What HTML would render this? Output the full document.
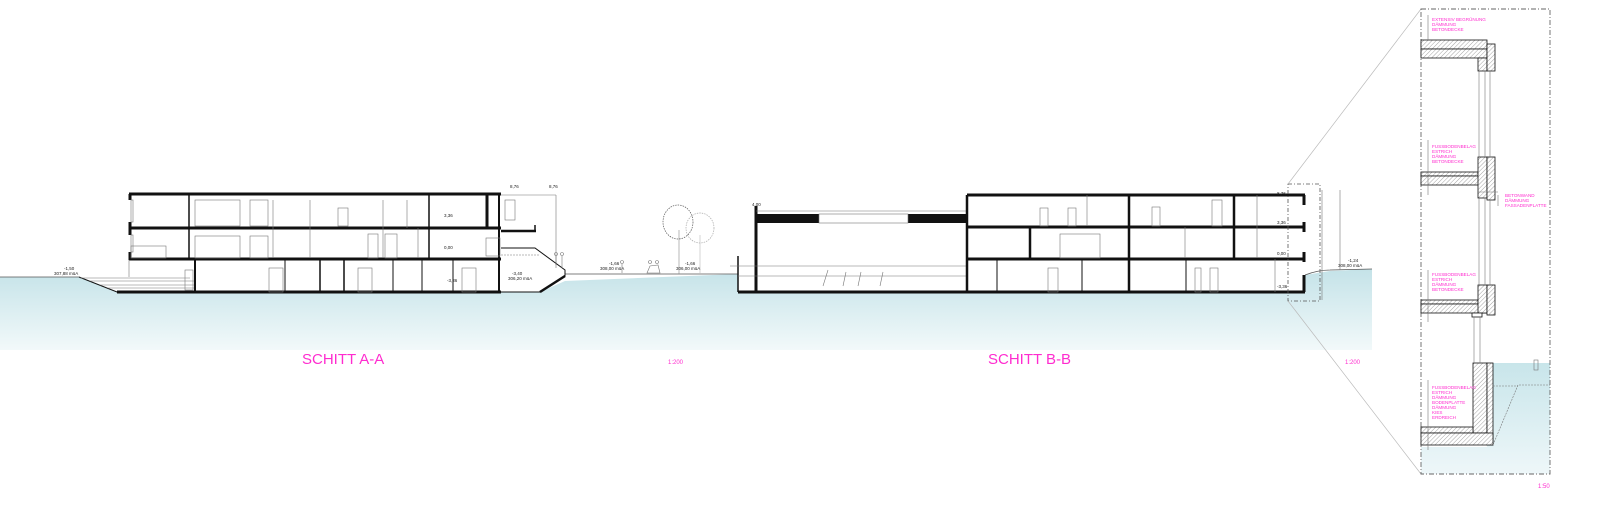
<!DOCTYPE html>
<html><head><meta charset="utf-8"><style>
html,body{margin:0;padding:0;background:#fff;}
svg{display:block;font-family:"Liberation Sans",sans-serif;}
.m{fill:#ff2ccf;}
.t{font-size:4.6px;fill:#ff2ccf;}
.k{stroke:#111;fill:none;}
.g{stroke:#777;fill:none;stroke-width:0.6;}
</style></head><body>
<svg width="1600" height="505" viewBox="0 0 1600 505" xmlns="http://www.w3.org/2000/svg">
<defs>
<linearGradient id="w" x1="0" y1="0" x2="0" y2="1">
<stop offset="0" stop-color="#bfe0e6"/><stop offset="1" stop-color="#f2f9fa"/>
</linearGradient>
<linearGradient id="w2" x1="0" y1="0" x2="0" y2="1">
<stop offset="0" stop-color="#c8e5ea"/><stop offset="1" stop-color="#eef7f9"/>
</linearGradient>
<pattern id="h" width="3" height="3" patternUnits="userSpaceOnUse" patternTransform="rotate(45)">
<rect width="3" height="3" fill="#fff"/><line x1="0" y1="0" x2="0" y2="3" stroke="#666" stroke-width="0.6"/>
</pattern>
</defs>
<!-- ground band -->
<path d="M0 277 L79 277 L117 292 L194 292 L194 260 L501 260 L501 292 L540 292 L565 281 L738 274 L738 292 L1305 292 L1305 275 L1330 271 L1372 269 L1372 350 L0 350 Z" fill="url(#w)"/>
<line x1="0" y1="277" x2="79" y2="277" stroke="#555" stroke-width="0.8"/>
<line x1="565" y1="274" x2="738" y2="274" stroke="#555" stroke-width="0.8"/>
<path d="M1305 275 Q1318 270 1330 270 L1372 269" stroke="#555" stroke-width="0.8" fill="none"/>

<!-- BUILDING A -->
<g>
<rect x="129" y="194" width="372" height="98" fill="#fff"/>
<path d="M79 277 L117 292 L194 292" class="k" stroke-width="1"/>
<line x1="117" y1="292" x2="194" y2="292" stroke="#111" stroke-width="3"/>
<g class="g"><line x1="90" y1="281" x2="194" y2="281"/><line x1="100" y1="285" x2="194" y2="285"/><line x1="108" y1="288" x2="194" y2="288"/><line x1="80" y1="278" x2="190" y2="278"/></g>
<line x1="129" y1="194" x2="501" y2="194" stroke="#111" stroke-width="3"/>
<line x1="129" y1="228" x2="501" y2="228" stroke="#111" stroke-width="3"/>
<line x1="129" y1="259" x2="501" y2="259" stroke="#111" stroke-width="3"/>
<line x1="194" y1="292" x2="501" y2="292" stroke="#111" stroke-width="3"/>
<g stroke="#111">
<line x1="130" y1="194" x2="130" y2="200" stroke-width="3"/><line x1="130" y1="222" x2="130" y2="235" stroke-width="3"/><line x1="130" y1="252" x2="130" y2="260" stroke-width="3"/>
<line x1="189" y1="194" x2="189" y2="259" stroke-width="1.5"/>
<line x1="195" y1="259" x2="195" y2="292" stroke-width="2"/>
<line x1="429" y1="194" x2="429" y2="259" stroke-width="1.5"/>
<line x1="487" y1="194" x2="487" y2="228" stroke-width="3"/>
<line x1="499" y1="194" x2="499" y2="292" stroke-width="2"/>
<line x1="285" y1="259" x2="285" y2="292" stroke-width="1"/><line x1="320" y1="259" x2="320" y2="292" stroke-width="1.5"/>
<line x1="344" y1="259" x2="344" y2="292" stroke-width="1.5"/><line x1="393" y1="259" x2="393" y2="292" stroke-width="1"/>
<line x1="422" y1="259" x2="422" y2="292" stroke-width="1"/><line x1="453" y1="259" x2="453" y2="292" stroke-width="1"/>
</g>
<g class="g">
<rect x="131" y="200" width="2" height="22"/><rect x="131" y="235" width="2" height="17"/>
<rect x="195" y="200" width="45" height="26"/><rect x="195" y="236" width="45" height="22"/>
<rect x="250" y="200" width="18" height="26"/><rect x="250" y="236" width="18" height="22"/>
<line x1="273" y1="200" x2="273" y2="258"/><line x1="310" y1="200" x2="310" y2="258"/>
<rect x="338" y="208" width="10" height="18"/><rect x="368" y="234" width="10" height="24"/><rect x="385" y="234" width="12" height="24"/>
<line x1="383" y1="200" x2="383" y2="258"/><line x1="407" y1="200" x2="407" y2="228"/><line x1="418" y1="228" x2="418" y2="258"/>
<rect x="269" y="268" width="14" height="24"/><rect x="358" y="268" width="14" height="24"/><rect x="462" y="268" width="14" height="24"/>
<rect x="131" y="246" width="35" height="12"/><line x1="129" y1="260" x2="129" y2="277"/>
<rect x="185" y="270" width="8" height="20"/>
</g>
<!-- annex -->
<line x1="501" y1="195" x2="556" y2="195" class="g"/>
<line x1="556" y1="195" x2="556" y2="265" class="g"/>
<line x1="501" y1="231" x2="536" y2="231" stroke="#111" stroke-width="2.5"/>
<line x1="535" y1="225" x2="535" y2="232" stroke="#111" stroke-width="1.5"/>
<rect x="486" y="238" width="14" height="18" class="g"/>
<path d="M501 248 L535 248 L565 270 L565 276 L540 292 L501 292" class="k" stroke-width="1"/>
<line x1="540" y1="292" x2="565" y2="276" stroke="#111" stroke-width="2.5"/>
<line x1="501" y1="255" x2="540" y2="255" class="g" stroke-dasharray="2 1"/>
<rect x="505" y="200" width="10" height="20" class="g"/>
</g>
<!-- people/trees rough -->
<g class="g">
<circle cx="556" cy="254" r="1.5"/><line x1="556" y1="256" x2="556" y2="268"/><circle cx="562" cy="254" r="1.5"/><line x1="562" y1="256" x2="562" y2="268"/>
<circle cx="622" cy="262" r="1.5"/><line x1="622" y1="264" x2="622" y2="273"/>
<circle cx="650" cy="262" r="1.5"/><circle cx="657" cy="262" r="1.5"/><path d="M647 273 L660 273 L658 265 L650 266 Z"/>
<line x1="679" y1="230" x2="679" y2="274" stroke="#888"/><line x1="700" y1="235" x2="700" y2="274" stroke="#bbb"/>
</g>
<g fill="none" stroke="#555" stroke-width="0.7">
<ellipse cx="678" cy="222" rx="15" ry="17" stroke-dasharray="1.5 1"/>
<ellipse cx="700" cy="228" rx="14" ry="15" stroke="#aaa" stroke-dasharray="1.5 1"/>
</g>

<!-- BUILDING B -->
<g>
<rect x="738" y="213" width="229" height="79" fill="#fff"/>
<rect x="967" y="195" width="338" height="97" fill="#fff"/>
<line x1="756" y1="206" x2="756" y2="292" stroke="#111" stroke-width="3"/>
<line x1="738" y1="256" x2="738" y2="292" stroke="#111" stroke-width="1.5"/>
<line x1="738" y1="292" x2="1305" y2="292" stroke="#111" stroke-width="3"/>
<rect x="756" y="214" width="63" height="9" fill="#111"/><rect x="908" y="214" width="59" height="9" fill="#111"/>
<rect x="819" y="214" width="89" height="9" class="g"/>
<line x1="756" y1="211" x2="967" y2="211" class="g"/>
<line x1="730" y1="266" x2="967" y2="266" class="g"/><line x1="738" y1="276" x2="967" y2="276" class="g"/>
<line x1="967" y1="195" x2="967" y2="292" stroke="#111" stroke-width="2.5"/>
<line x1="967" y1="195" x2="1305" y2="195" stroke="#111" stroke-width="3"/>
<line x1="967" y1="227" x2="1305" y2="227" stroke="#111" stroke-width="3"/>
<line x1="967" y1="259" x2="1305" y2="259" stroke="#111" stroke-width="3"/>
<g stroke="#111">
<line x1="1030" y1="227" x2="1030" y2="259" stroke-width="2.5"/>
<line x1="1129" y1="195" x2="1129" y2="292" stroke-width="2.5"/>
<line x1="1234" y1="195" x2="1234" y2="259" stroke-width="2.5"/>
<line x1="1304" y1="195" x2="1304" y2="205" stroke-width="3"/><line x1="1304" y1="222" x2="1304" y2="232" stroke-width="3"/><line x1="1304" y1="252" x2="1304" y2="262" stroke-width="3"/>
<line x1="1304" y1="275" x2="1304" y2="292" stroke-width="3"/>
<line x1="997" y1="259" x2="997" y2="292" stroke-width="1"/><line x1="1082" y1="259" x2="1082" y2="292" stroke-width="1"/>
<line x1="1186" y1="259" x2="1186" y2="292" stroke-width="1"/>
</g>
<g class="g">
<rect x="1040" y="208" width="8" height="18"/><rect x="1068" y="208" width="8" height="18"/><rect x="1152" y="207" width="8" height="19"/>
<rect x="1212" y="200" width="10" height="26"/><line x1="1087" y1="195" x2="1087" y2="226"/>
<rect x="1060" y="234" width="40" height="24"/><line x1="1185" y1="227" x2="1185" y2="258"/>
<rect x="1048" y="268" width="10" height="24"/><rect x="1195" y="268" width="6" height="24"/><rect x="1210" y="268" width="8" height="24"/>
<line x1="1257" y1="195" x2="1257" y2="258"/><line x1="1275" y1="259" x2="1275" y2="292"/>
<path d="M823 286 L828 270 M843 286 L846 272 M858 286 L861 272 M880 286 L883 272"/>
</g>
</g>
<!-- dashed callout -->
<rect x="1288" y="184" width="32" height="117" fill="none" stroke="#555" stroke-width="0.8" stroke-dasharray="4 2 1 2"/>
<line x1="1322" y1="190" x2="1322" y2="300" class="g"/><line x1="1340" y1="190" x2="1340" y2="270" class="g"/>
<line x1="1288" y1="184" x2="1421" y2="9" stroke="#bbb" stroke-width="0.7"/>
<line x1="1288" y1="301" x2="1421" y2="474" stroke="#bbb" stroke-width="0.7"/>

<!-- small level labels -->
<g font-size="4.5" fill="#222">
<text x="64" y="270">-1,50</text><text x="54" y="275">307,88 müA</text>
<text x="510" y="188">8,76</text><text x="549" y="188">8,76</text>
<text x="444" y="217">3,36</text><text x="444" y="249">0,00</text><text x="447" y="282">-3,36</text>
<text x="512" y="275">-3,40</text><text x="508" y="280">306,20 müA</text>
<text x="609" y="265">-1,66</text><text x="600" y="270">308,00 müA</text>
<text x="685" y="265">-1,66</text><text x="676" y="270">306,00 müA</text>
<text x="752" y="206">4,00</text>
<text x="1277" y="195">8,76</text><text x="1277" y="224">3,36</text><text x="1277" y="255">0,00</text><text x="1277" y="288">-3,36</text>
<text x="1348" y="262">-1,24</text><text x="1338" y="267">308,00 müA</text>
</g>

<!-- titles -->
<text x="302" y="364" class="m" font-size="15">SCHITT A-A</text>
<text x="988" y="364" class="m" font-size="15">SCHITT B-B</text>
<text x="668" y="364" class="m" font-size="6">1:200</text>
<text x="1345" y="364" class="m" font-size="6">1:200</text>
<text x="1538" y="488" class="m" font-size="6">1:50</text>

<!-- DETAIL PANEL -->
<path d="M1487 363 L1550 363 L1550 474 L1421 474 L1421 447 L1487 447 Z" fill="url(#w2)"/>
<rect x="1421" y="9" width="129" height="465" fill="none" stroke="#666" stroke-width="0.9" stroke-dasharray="5 2 1 2"/>
<g stroke="#111" stroke-width="0.8">
<!-- roof -->
<rect x="1421" y="40" width="66" height="9" fill="url(#h)"/>
<rect x="1421" y="49" width="66" height="9" fill="url(#h)"/>
<rect x="1478" y="58" width="9" height="13" fill="url(#h)"/>
<rect x="1487" y="44" width="8" height="27" fill="url(#h)"/>
<!-- floor 2 -->
<rect x="1421" y="172" width="57" height="4" fill="url(#h)"/>
<rect x="1421" y="176" width="66" height="9" fill="url(#h)"/>
<rect x="1478" y="157" width="9" height="41" fill="url(#h)"/>
<rect x="1487" y="157" width="8" height="43" fill="url(#h)"/>
<!-- floor 3 -->
<rect x="1421" y="300" width="57" height="4" fill="url(#h)"/>
<rect x="1421" y="304" width="66" height="9" fill="url(#h)"/>
<rect x="1478" y="285" width="9" height="28" fill="url(#h)"/>
<rect x="1487" y="285" width="8" height="30" fill="url(#h)"/>
<rect x="1472" y="313" width="10" height="4" fill="#fff"/>
<!-- basement -->
<rect x="1473" y="363" width="14" height="70" fill="url(#h)"/>
<rect x="1487" y="363" width="6" height="82" fill="url(#h)"/>
<rect x="1421" y="427" width="52" height="6" fill="url(#h)"/>
<rect x="1421" y="433" width="72" height="12" fill="url(#h)"/>
</g>
<g class="g">
<line x1="1479" y1="71" x2="1479" y2="157"/><line x1="1485" y1="71" x2="1485" y2="157"/><line x1="1490" y1="71" x2="1490" y2="157"/>
<line x1="1479" y1="198" x2="1479" y2="285"/><line x1="1485" y1="198" x2="1485" y2="285"/><line x1="1490" y1="200" x2="1490" y2="285"/>
<line x1="1474" y1="317" x2="1474" y2="363"/><line x1="1480" y1="317" x2="1480" y2="363"/>
<line x1="1428" y1="15" x2="1428" y2="40"/><line x1="1428" y1="140" x2="1428" y2="195"/><line x1="1428" y1="270" x2="1428" y2="322"/><line x1="1428" y1="380" x2="1428" y2="450"/>
<path d="M1498 195 L1498 206 M1478 192 L1498 192"/>
<path d="M1493 445 L1518 385 L1550 385" stroke-dasharray="2 1"/>
<path d="M1493 386 L1518 386" stroke-dasharray="2 1"/>
<rect x="1534" y="360" width="4" height="10"/>
</g>
<g class="t">
<text x="1432" y="21">EXTENSIV BEGRÜNUNG</text><text x="1432" y="26">DÄMMUNG</text><text x="1432" y="31">BETONDECKE</text>
<text x="1432" y="148">FUSSBODENBELAG</text><text x="1432" y="153">ESTRICH</text><text x="1432" y="158">DÄMMUNG</text><text x="1432" y="163">BETONDECKE</text>
<text x="1505" y="197">BETONWAND</text><text x="1505" y="202">DÄMMUNG</text><text x="1505" y="207">FASSADENPLATTE</text>
<text x="1432" y="276">FUSSBODENBELAG</text><text x="1432" y="281">ESTRICH</text><text x="1432" y="286">DÄMMUNG</text><text x="1432" y="291">BETONDECKE</text>
<text x="1432" y="389">FUSSBODENBELAG</text><text x="1432" y="394">ESTRICH</text><text x="1432" y="399">DÄMMUNG</text><text x="1432" y="404">BODENPLATTE</text><text x="1432" y="409">DÄMMUNG</text><text x="1432" y="414">KIES</text><text x="1432" y="419">ERDREICH</text>
</g>
</svg>
</body></html>
